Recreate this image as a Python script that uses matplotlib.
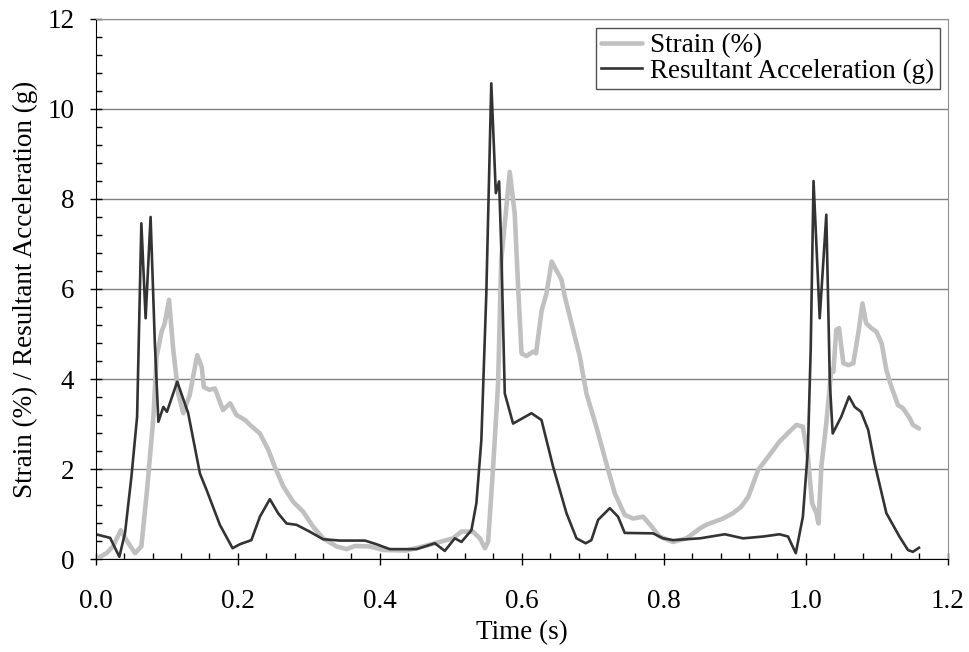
import numpy as np
import matplotlib
matplotlib.use('Agg')
import matplotlib.pyplot as plt
from matplotlib.ticker import MultipleLocator, FormatStrFormatter

# strain (%)
t_strain = [0, 0.015, 0.024, 0.035, 0.043, 0.055, 0.064, 0.072, 0.081, 0.0855,
            0.0925, 0.097, 0.103, 0.109, 0.116, 0.123, 0.132, 0.1427, 0.149, 0.152,
            0.16, 0.1676, 0.179, 0.189, 0.198, 0.21, 0.217, 0.231, 0.243, 0.252,
            0.264, 0.278, 0.292, 0.306, 0.320, 0.339, 0.353, 0.365, 0.386, 0.405,
            0.4376, 0.461, 0.4845, 0.503, 0.515, 0.531, 0.541, 0.548, 0.5525, 0.5596,
            0.5666, 0.571, 0.583, 0.590, 0.5948, 0.5996, 0.6066, 0.616, 0.620, 0.628,
            0.6348, 0.642, 0.651, 0.656, 0.6606, 0.670, 0.6817, 0.691, 0.705, 0.719,
            0.731, 0.745, 0.757, 0.771, 0.783, 0.794, 0.813, 0.832, 0.851, 0.860,
            0.8835, 0.8976, 0.909, 0.919, 0.933, 0.947, 0.956, 0.963, 0.977, 0.987,
            0.996, 1.003, 1.009, 1.015, 1.018, 1.022, 1.029, 1.036, 1.039, 1.043,
            1.047, 1.053, 1.060, 1.067, 1.074, 1.080, 1.085, 1.0925, 1.0996, 1.107,
            1.1136, 1.1206, 1.130, 1.137, 1.1465, 1.151, 1.1596]
strain = [0.0, 0.13, 0.28, 0.64, 0.42, 0.13, 0.28, 1.53, 3.16, 4.5,
          5.05, 5.24, 5.76, 4.64, 3.68, 3.24, 3.64, 4.53, 4.27, 3.82,
          3.76, 3.79, 3.31, 3.46, 3.2, 3.09, 2.98, 2.79, 2.42, 2.05,
          1.61, 1.27, 1.05, 0.72, 0.46, 0.28, 0.22, 0.29, 0.28, 0.2,
          0.19, 0.28, 0.38, 0.46, 0.61, 0.61, 0.46, 0.24, 0.38, 2.05,
          3.9, 6.64, 8.6, 7.68, 6.05, 4.57, 4.51, 4.61, 4.57, 5.53,
          5.9, 6.61, 6.35, 6.2, 5.83, 5.24, 4.5, 3.68, 2.94, 2.13,
          1.46, 0.98, 0.9, 0.94, 0.72, 0.5, 0.38, 0.46, 0.68, 0.76,
          0.9, 1.02, 1.16, 1.38, 1.98, 2.27, 2.46, 2.61, 2.83, 2.98,
          2.94, 2.27, 1.24, 1.02, 0.79, 2.05, 3.02, 4.2, 4.16, 5.09,
          5.13, 4.35, 4.31, 4.35, 5.01, 5.68, 5.24, 5.13, 5.05, 4.79,
          4.2, 3.83, 3.42, 3.35, 3.13, 2.98, 2.9]

# resultant acceleration (g)
t_acc = [0, 0.02, 0.033, 0.041, 0.050, 0.058, 0.064, 0.070, 0.077, 0.083,
         0.088, 0.095, 0.100, 0.1145, 0.130, 0.1465, 0.156, 0.1746, 0.1925, 0.203,
         0.219, 0.231, 0.245, 0.257, 0.2686, 0.2826, 0.301, 0.320, 0.3437, 0.379,
         0.395, 0.414, 0.4516, 0.4775, 0.4915, 0.5056, 0.515, 0.529, 0.536, 0.543,
         0.550, 0.557, 0.5634, 0.568, 0.571, 0.576, 0.5877, 0.6136, 0.6277, 0.6441,
         0.6629, 0.677, 0.690, 0.698, 0.7075, 0.724, 0.7356, 0.745, 0.785, 0.799,
         0.813, 0.851, 0.886, 0.9117, 0.940, 0.963, 0.975, 0.986, 0.996, 1.003,
         1.007, 1.011, 1.0197, 1.029, 1.034, 1.038, 1.050, 1.061, 1.069, 1.078,
         1.088, 1.097, 1.1136, 1.132, 1.144, 1.151, 1.1596]
acc = [0.55, 0.47, 0.05, 0.58, 1.83, 3.16, 7.46, 5.35, 7.6, 4.8,
       3.05, 3.38, 3.27, 3.94, 3.24, 1.9, 1.53, 0.76, 0.24, 0.33,
       0.42, 0.94, 1.33, 1.01, 0.79, 0.76, 0.61, 0.44, 0.41, 0.41,
       0.33, 0.22, 0.22, 0.35, 0.18, 0.46, 0.38, 0.64, 1.24, 2.64,
       5.9, 10.57, 8.13, 8.39, 6.94, 3.68, 3.01, 3.24, 3.09, 2.05,
       1.02, 0.46, 0.35, 0.42, 0.87, 1.13, 0.94, 0.58, 0.57, 0.46,
       0.42, 0.46, 0.55, 0.46, 0.50, 0.55, 0.50, 0.13, 0.94, 2.42,
       4.64, 8.4, 5.35, 7.65, 3.9, 2.79, 3.16, 3.61, 3.38, 3.27,
       2.87, 2.13, 1.02, 0.50, 0.2, 0.16, 0.25]

plt.rcParams['font.family'] = ['Liberation Serif', 'DejaVu Serif']
plt.rcParams['font.size'] = 19.5

fig = plt.figure(figsize=(9.69, 6.52), dpi=100)
ax = fig.add_axes([0.099, 0.1426, 0.879, 0.8283])

ax.plot(t_strain, strain, color='#c0c0c0', lw=3.3, label='Strain (%)',
        solid_joinstyle='round', solid_capstyle='round')
ax.plot(t_acc, acc, color='#333333', lw=1.9, label='Resultant Acceleration (g)',
        solid_joinstyle='round')

ax.set_xlim(0, 1.2)
ax.set_ylim(0, 12)
ax.xaxis.set_major_locator(MultipleLocator(0.2))
ax.xaxis.set_minor_locator(MultipleLocator(0.04))
ax.xaxis.set_major_formatter(FormatStrFormatter('%.1f'))
ax.yaxis.set_major_locator(MultipleLocator(2))
ax.yaxis.set_minor_locator(MultipleLocator(0.4))
ax.tick_params(which='major', direction='inout', length=9, width=1, color='black')
ax.tick_params(which='minor', direction='in', length=4, width=1, color='black')
ax.tick_params(axis='x', which='major', pad=17)
ax.tick_params(axis='y', which='major', pad=11)

ax.grid(axis='y', which='major', color='#808080', lw=1)
ax.set_axisbelow(True)
for s in ['top', 'right']:
    ax.spines[s].set_color('#909090')
ax.spines['left'].set_color('black')
ax.spines['bottom'].set_color('black')

ax.set_xlabel('Time (s)')
ax.set_ylabel('Strain (%) / Resultant Acceleration (g)')
ax.xaxis.set_label_coords(0.5, -0.113)
ax.yaxis.set_label_coords(-0.068, 0.5)

leg = ax.legend(loc='upper right', bbox_to_anchor=(0.9906, 0.9833), borderaxespad=0,
                fancybox=False, framealpha=1, edgecolor='#505050', handlelength=1.5,
                borderpad=0.2, labelspacing=0.0, handletextpad=0.3)
leg.get_frame().set_linewidth(1)

fig.savefig('out.png', dpi=100)
